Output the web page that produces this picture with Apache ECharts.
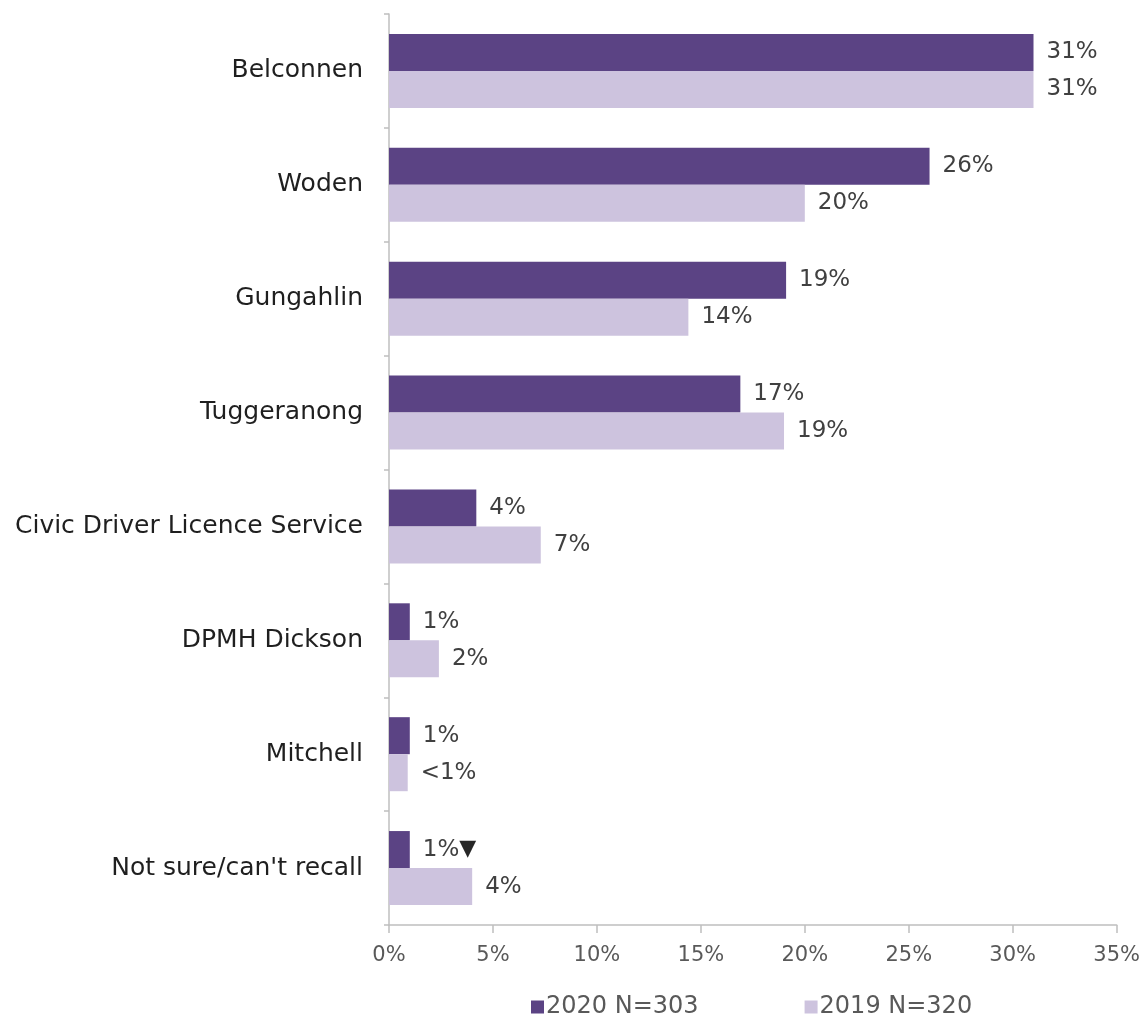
<!DOCTYPE html>
<html>
<head>
<meta charset="utf-8">
<script src="https://cdn.jsdelivr.net/npm/echarts@6/dist/echarts.min.js"></script>
<style>
  html, body { margin: 0; padding: 0; background: #ffffff; }
  #chart { width: 1143px; height: 1019px; }
</style>
</head>
<body>
<div id="chart"></div>
<script>
// Service centre last visited, share of respondents (%)
const categories = [
  'Belconnen',
  'Woden',
  'Gungahlin',
  'Tuggeranong',
  'Civic Driver Licence Service',
  'DPMH Dickson',
  'Mitchell',
  "Not sure/can't recall"
];
const values2020 = [31, 26, 19.1, 16.9, 4.2, 1, 1, 1];
const values2019 = [31, 20, 14.4, 19, 7.3, 2.4, 0.9, 4];
// significant change flags shown beside the 2020 labels
const flags2020 = ['', '', '', '', '', '', '', '\u25BC'];
const xTicks = [0, 5, 10, 15, 20, 25, 30, 35];
const seriesNames = ['2020 N=303', '2019 N=320'];

const FONT = '"DejaVu Sans", "Open Sans", sans-serif';
const DARK = '#5b4384';
const LIGHT = '#cdc3de';

function pct(v) {
  return v < 1 ? '<1%' : Math.round(v) + '%';
}

const chart = echarts.init(document.getElementById('chart'), null, { renderer: 'canvas' });

chart.setOption({
  animation: false,
  backgroundColor: '#ffffff',
  grid: { left: 389, right: 24.5, top: 14, bottom: 94, containLabel: false },
  legend: {
    top: 990,
    left: 526,
    itemWidth: 13,
    itemHeight: 13,
    itemGap: 106,
    icon: 'rect',
    textStyle: { fontFamily: FONT, fontSize: 24, color: '#595959', padding: [0, 0, 0, -3] },
    data: seriesNames
  },
  xAxis: {
    type: 'value',
    min: xTicks[0],
    max: xTicks[xTicks.length - 1],
    interval: 5,
    splitLine: { show: false },
    axisLine: { show: true, lineStyle: { color: '#bfbfbf', width: 1.5 } },
    axisTick: { show: true, length: 8, lineStyle: { color: '#bfbfbf', width: 1.5 } },
    axisLabel: {
      margin: 20,
      fontFamily: FONT,
      fontSize: 21,
      color: '#595959',
      formatter: v => v + '%'
    }
  },
  yAxis: {
    type: 'category',
    data: categories,
    inverse: true,
    axisLine: { show: true, lineStyle: { color: '#bfbfbf', width: 1.5 } },
    axisTick: { show: true, length: 5, lineStyle: { color: '#bfbfbf', width: 1.5 } },
    axisLabel: {
      margin: 26,
      fontFamily: FONT,
      fontSize: 25,
      color: '#1f1f1f'
    }
  },
  series: [
    {
      name: seriesNames[0],
      type: 'bar',
      data: values2020,
      barGap: '0%',
      barCategoryGap: '35%',
      itemStyle: { color: DARK },
      label: {
        show: true,
        position: 'right',
        distance: 13,
        fontFamily: FONT,
        fontSize: 23,
        color: '#404040',
        formatter: p => pct(p.value) + (flags2020[p.dataIndex] ? '{flag|' + flags2020[p.dataIndex] + '}' : ''),
        rich: {
          flag: { fontFamily: FONT, fontSize: 22, color: '#262626' }
        }
      }
    },
    {
      name: seriesNames[1],
      type: 'bar',
      data: values2019,
      barGap: '0%',
      barCategoryGap: '35%',
      itemStyle: { color: LIGHT },
      label: {
        show: true,
        position: 'right',
        distance: 13,
        fontFamily: FONT,
        fontSize: 23,
        color: '#404040',
        formatter: p => pct(p.value)
      }
    }
  ]
});
</script>
</body>
</html>
